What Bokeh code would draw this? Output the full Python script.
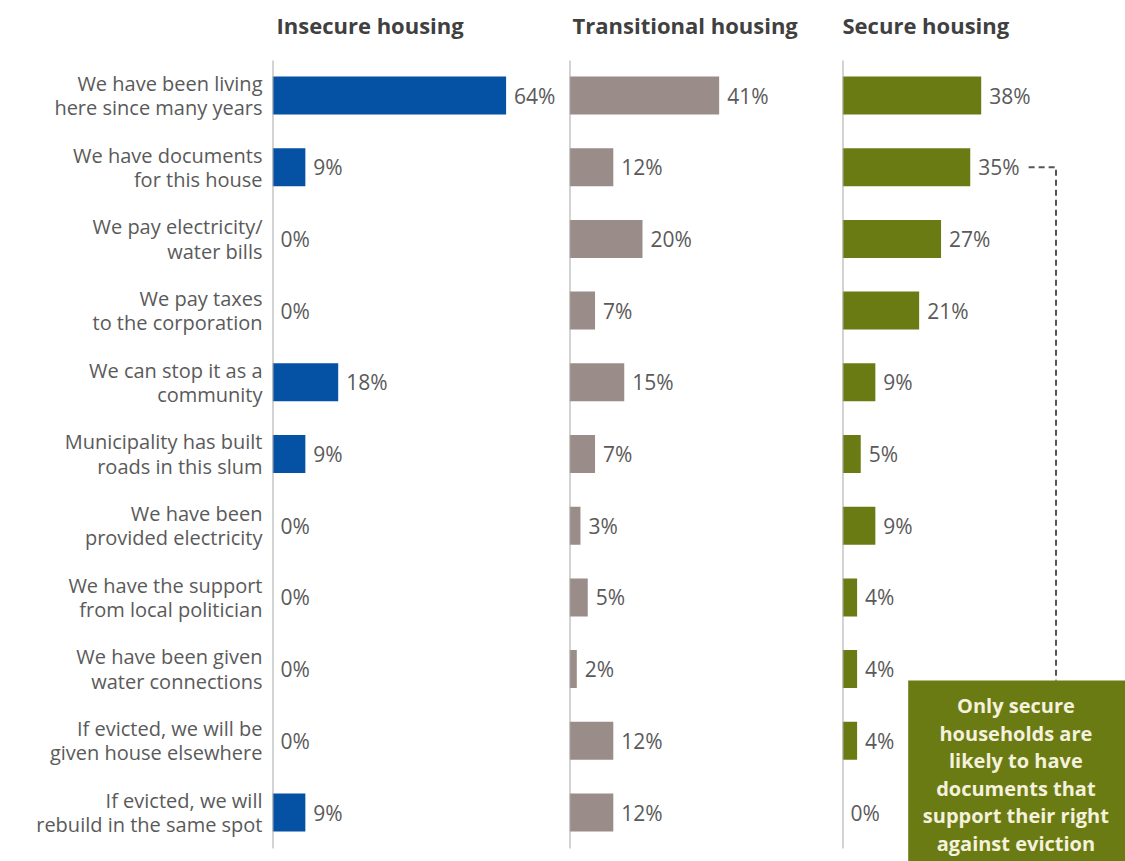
from bokeh.plotting import figure
from bokeh.layouts import row
from bokeh.models import Range1d, FixedTicker, ColumnDataSource
from bokeh.core.properties import value
from bokeh.embed import file_html
from bokeh.resources import INLINE

categories = [
    "We have been living\nhere since many years",
    "We have documents\nfor this house",
    "We pay electricity/\nwater bills",
    "We pay taxes\nto the corporation",
    "We can stop it as a\ncommunity",
    "Municipality has built\nroads in this slum",
    "We have been\nprovided electricity",
    "We have the support\nfrom local politician",
    "We have been given\nwater connections",
    "If evicted, we will be\ngiven house elsewhere",
    "If evicted, we will\nrebuild in the same spot",
]
insecure = [64, 9, 0, 0, 18, 9, 0, 0, 0, 0, 9]
transitional = [41, 12, 20, 7, 15, 7, 3, 5, 2, 12, 12]
secure = [38, 35, 27, 21, 9, 5, 9, 4, 4, 4, 0]
panel_titles = ["Insecure housing", "Transitional housing", "Secure housing"]
colors = ["#0551a3", "#9a8c88", "#6b7b14"]
note_lines = ["Only secure", "households are", "likely to have",
              "documents that", "support their right", "against eviction"]

FONT = "Open Sans"
PX = 3.65          # pixels per percent
ROW = 71.7         # pixels per row
H = 861
y_top = -95 / ROW
y_bot = y_top + H / ROW


def y_at(px):
    return y_top + px / ROW


specs = [
    # width, min_border_left, title offset
    (560, 272, 4),
    (278, 9, 3),
    (287, 4, 0),
]
series = [insecure, transitional, secure]
figs = []
for k, ((w, bl, toff), vals, ttl, col) in enumerate(zip(specs, series, panel_titles, colors)):
    fw = w - bl
    p = figure(width=w, height=H, output_backend="svg", toolbar_location=None,
               x_range=Range1d(0, fw / PX), y_range=Range1d(y_bot, y_top),
               x_axis_location=None, y_axis_location="left" if k == 0 else None,
               min_border_left=bl, min_border_right=0, min_border_top=0,
               min_border_bottom=0)
    p.outline_line_color = None
    p.grid.visible = False
    p.background_fill_color = "white"
    p.border_fill_color = "white"
    ys = list(range(len(categories)))
    src = ColumnDataSource(dict(y=ys, v=vals, lab=[f"{v}%" for v in vals]))
    p.hbar(y="y", left=0, right="v", height=0.53, source=src,
           fill_color=col, line_color=None)
    p.segment(x0=[0], y0=[y_at(60)], x1=[0], y1=[y_at(848)],
              line_color="#a8a8a8", line_width=2)
    p.text(x="v", y="y", text="lab", source=src, x_offset=8,
           text_align="left", text_baseline="middle",
           text_font=value(FONT), text_font_size="21px", text_color="#5a5a5a")
    # panel title
    p.text(x=[0], y=[y_at(24)], text=[ttl], x_offset=toff,
           text_align="left", text_baseline="middle",
           text_font=value(FONT), text_font_size="22px", text_font_style="bold",
           text_color="#404040")
    if k == 0:
        ax = p.yaxis[0]
        ax.ticker = FixedTicker(ticks=ys)
        ax.major_label_overrides = {i: c for i, c in enumerate(categories)}
        ax.axis_line_color = None
        ax.major_tick_line_color = None
        ax.minor_tick_line_color = None
        ax.major_tick_out = 0
        ax.major_tick_in = 0
        ax.major_label_standoff = 10
        ax.major_label_text_font = FONT
        ax.major_label_text_font_size = "20px"
        ax.major_label_text_color = "#5a5a5a"
        ax.major_label_text_line_height = 0.9
    if k == 2:
        # annotation box and connector
        box_top = y_at(680)
        p.quad(left=[18], right=[90], top=[box_top], bottom=[y_bot + 1],
               fill_color="#6b7b14", line_color=None)
        p.line(x=[51, 58.5, 58.5], y=[1, 1, box_top],
               line_color="#555555", line_width=2, line_dash="6 4")
        p.text(x=[47.5] * len(note_lines),
               y=[y_at(705 + 27.6 * i) for i in range(len(note_lines))],
               text=note_lines,
               text_align="center", text_baseline="middle",
               text_font=value(FONT), text_font_size="20px", text_font_style="bold",
               text_color="#f4f1dc")
    figs.append(p)

layout = row(*figs, spacing=0)
open("out.html", "w").write(file_html(layout, INLINE))
